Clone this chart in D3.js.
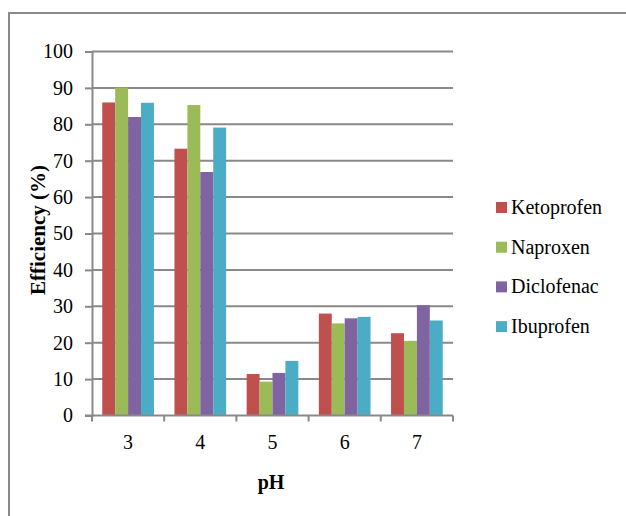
<!DOCTYPE html>
<html>
<head>
<meta charset="utf-8">
<script src="https://cdn.jsdelivr.net/npm/d3@7/dist/d3.min.js"></script>
<style>
  html, body { margin: 0; padding: 0; background: #fff; }
  svg { display: block; }
  text { font-family: "Liberation Serif", "Times New Roman", serif; fill: #000; }
</style>
</head>
<body>
<svg id="chart" width="626" height="516"></svg>
<script>
// pH levels on the x axis
const categories = ["3", "4", "5", "6", "7"];
// drug series shown as grouped bars
const seriesNames = ["Ketoprofen", "Naproxen", "Diclofenac", "Ibuprofen"];
const seriesColors = ["#C0504D", "#9BBB59", "#8064A2", "#4BACC6"];
// removal efficiency (%) per series, one value per pH
const ketoprofen = [86.0, 73.3, 11.4, 28.0, 22.6];
const naproxen   = [90.1, 85.3, 9.3, 25.3, 20.5];
const diclofenac = [82.0, 66.9, 11.7, 26.7, 30.3];
const ibuprofen  = [85.9, 79.1, 15.0, 27.1, 26.1];
const yTicks = [0, 10, 20, 30, 40, 50, 60, 70, 80, 90, 100];

const seriesValues = [ketoprofen, naproxen, diclofenac, ibuprofen];

const svg = d3.select("#chart");
const gridColor = "#898989";

// outer chart frame
svg.append("rect")
  .attr("x", 9).attr("y", 13)
  .attr("width", 640).attr("height", 540)
  .attr("fill", "none").attr("stroke", gridColor).attr("stroke-width", 2);

const plot = { left: 92, right: 453, top: 51.5, bottom: 415.5 };

const x = d3.scaleBand()
  .domain(categories)
  .range([plot.left, plot.right])
  .paddingInner(0.284)
  .paddingOuter(0.142);

const xInner = d3.scaleBand()
  .domain(seriesNames)
  .range([0, x.bandwidth()]);

const y = d3.scaleLinear()
  .domain([0, 100])
  .range([plot.bottom, plot.top]);

const color = d3.scaleOrdinal().domain(seriesNames).range(seriesColors);

// horizontal gridlines
svg.append("g")
  .selectAll("line")
  .data(yTicks.filter(d => d > 0))
  .join("line")
  .attr("x1", plot.left).attr("x2", plot.right)
  .attr("y1", d => y(d)).attr("y2", d => y(d))
  .attr("stroke", gridColor).attr("stroke-width", 2);

// bars
const rows = categories.map((c, i) => ({
  cat: c,
  values: seriesNames.map((s, j) => ({ series: s, value: seriesValues[j][i] }))
}));

svg.append("g")
  .selectAll("g")
  .data(rows)
  .join("g")
  .attr("transform", d => `translate(${x(d.cat)},0)`)
  .selectAll("rect")
  .data(d => d.values)
  .join("rect")
  .attr("x", d => xInner(d.series))
  .attr("width", xInner.bandwidth())
  .attr("y", d => y(d.value))
  .attr("height", d => y(0) - y(d.value))
  .attr("fill", d => color(d.series));

// y axis
const yAxis = svg.append("g")
  .attr("transform", `translate(${plot.left},0)`)
  .call(d3.axisLeft(y).tickValues(yTicks).tickSize(7).tickPadding(12).tickFormat(d3.format("d")));
yAxis.select(".domain").attr("stroke", gridColor).attr("stroke-width", 2);
yAxis.selectAll(".tick line").attr("stroke", gridColor).attr("stroke-width", 2);
yAxis.selectAll(".tick text")
  .attr("font-size", 20)
  .attr("font-family", "Liberation Serif, Times New Roman, serif")
  .attr("fill", "#000");

// x axis with ticks between categories
const boundaries = categories.map(c => x(c) - x.step() * x.paddingInner() / 2)
  .concat([plot.right]);
const xAxisG = svg.append("g");
xAxisG.append("line")
  .attr("x1", plot.left - 7).attr("x2", plot.right)
  .attr("y1", plot.bottom).attr("y2", plot.bottom)
  .attr("stroke", gridColor).attr("stroke-width", 2);
xAxisG.selectAll("line.tk")
  .data(boundaries)
  .join("line")
  .attr("class", "tk")
  .attr("x1", d => d).attr("x2", d => d)
  .attr("y1", plot.bottom).attr("y2", plot.bottom + 6)
  .attr("stroke", gridColor).attr("stroke-width", 2);
xAxisG.selectAll("text")
  .data(categories)
  .join("text")
  .attr("x", d => x(d) + x.bandwidth() / 2)
  .attr("y", 449)
  .attr("text-anchor", "middle")
  .attr("font-size", 20)
  .text(d => d);

// axis titles
svg.append("text")
  .attr("x", 271).attr("y", 489)
  .attr("text-anchor", "middle")
  .attr("font-size", 20).attr("font-weight", "bold")
  .text("pH");

svg.append("text")
  .attr("transform", "translate(45,230) rotate(-90)")
  .attr("text-anchor", "middle")
  .attr("font-size", 21).attr("font-weight", "bold")
  .text("Efficiency (%)");

// legend
const legend = svg.append("g")
  .selectAll("g")
  .data(seriesNames)
  .join("g")
  .attr("transform", (d, i) => `translate(496,${202 + i * 39.7})`);
legend.append("rect")
  .attr("width", 11).attr("height", 11)
  .attr("fill", d => color(d));
legend.append("text")
  .attr("x", 15).attr("y", 12)
  .attr("font-size", 20)
  .text(d => d);
</script>
</body>
</html>
